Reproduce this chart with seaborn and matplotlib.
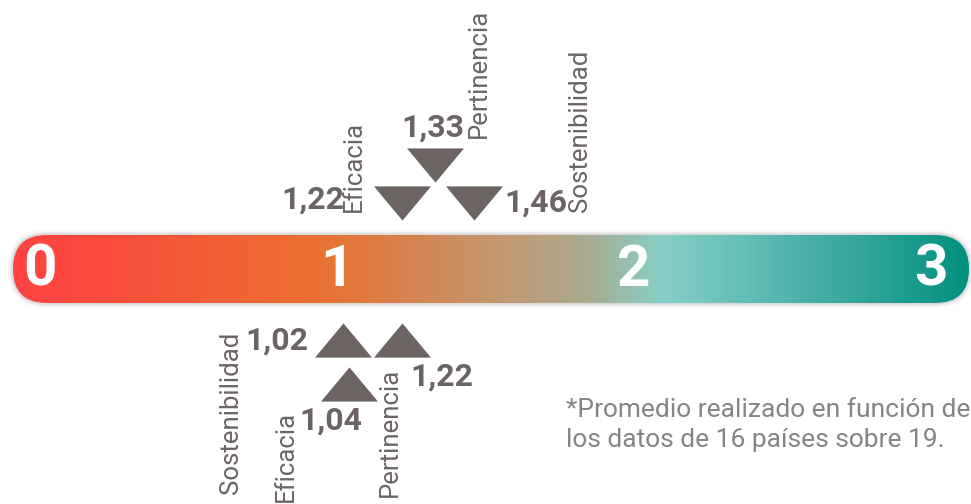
import numpy as np
import seaborn as sns
import matplotlib.pyplot as plt
from matplotlib.patches import FancyBboxPatch
from matplotlib.colors import LinearSegmentedColormap
from matplotlib.path import Path

sns.set_theme(style="white")
plt.rcParams['font.family'] = ['Roboto', 'DejaVu Sans']

# data
scale_ticks = [0, 1, 2, 3]
top_labels = ["Eficacia", "Pertinencia", "Sostenibilidad"]
top_values = [1.22, 1.33, 1.46]
bottom_labels = ["Sostenibilidad", "Eficacia", "Pertinencia"]
bottom_values = [1.02, 1.04, 1.22]
footnote = "*Promedio realizado en función de\nlos datos de 16 países sobre 19."

GREY = "#6b6462"
W, H = 971, 504
PX_PER_UNIT = 297.0
X0_PX = 40.0

fig = plt.figure(figsize=(W / 100, H / 100), dpi=100)
ax = fig.add_axes([0, 0, 1, 1])
ax.set_xlim(-X0_PX / PX_PER_UNIT, (W - X0_PX) / PX_PER_UNIT)
ax.set_ylim(H, 0)  # vertical axis in pixel rows, for layout only
ax.axis("off")

# gradient bar with rounded ends
bar_x0 = (13 - X0_PX) / PX_PER_UNIT
bar_x1 = (969 - X0_PX) / PX_PER_UNIT
bar_top, bar_bot = 235, 303
r = (bar_bot - bar_top) / 2 / PX_PER_UNIT

for grow, alpha in [(5, 0.03), (3, 0.05), (1.5, 0.07)]:
    g = grow / PX_PER_UNIT
    ax.add_patch(FancyBboxPatch((bar_x0 - g, bar_top - grow), bar_x1 - bar_x0 + 2 * g,
                                bar_bot - bar_top + 2 * grow,
                                boxstyle=f"round,pad=0,rounding_size={r + g}",
                                mutation_aspect=PX_PER_UNIT, fc="#000000", ec="none",
                                alpha=alpha, zorder=1))

clip = FancyBboxPatch((bar_x0, bar_top), bar_x1 - bar_x0, bar_bot - bar_top,
                      boxstyle=f"round,pad=0,rounding_size={r}",
                      mutation_aspect=PX_PER_UNIT, fc="none", ec="none")
ax.add_patch(clip)
cmap = LinearSegmentedColormap.from_list("bar", [
    (0.00, "#ff4343"), (0.09, "#fa4c3d"), (0.315, "#eb7030"), (0.45, "#cf8b5c"),
    (0.55, "#b9a07e"), (0.60, "#a9ab90"), (0.68, "#86cfc7"), (0.82, "#4eb3aa"),
    (1.00, "#03907e")])
img = ax.imshow(np.linspace(0, 1, 512)[None, :], cmap=cmap, aspect="auto",
                extent=(bar_x0, bar_x1, bar_bot, bar_top), zorder=2)
img.set_clip_path(clip)

for t in scale_ticks:
    ax.text(t, 270, str(t), color="white", fontsize=42, fontweight="bold",
            ha="center", va="center", zorder=3)

# triangle markers
down_tri = Path([(-1, 0.6), (1, 0.6), (0, -0.6), (-1, 0.6)], closed=True)
up_tri = Path([(-1, -0.6), (1, -0.6), (0, 0.6), (-1, -0.6)], closed=True)

# layout: row y (px), value label offset/alignment, name label offset/alignment
top_layout = {
    "Eficacia": dict(y=203, v=(-58, -3, "right", "center"), n=(-48, 9, "bottom")),
    "Pertinencia": dict(y=165, v=(-2, -37, "center", "center"), n=(44, -27, "bottom")),
    "Sostenibilidad": dict(y=203, v=(31, 0, "left", "center"), n=(106, 9, "bottom")),
}
bottom_layout = {
    "Sostenibilidad": dict(y=340, v=(-35, 1, "right", "center"), n=(-112, -8, "top")),
    "Eficacia": dict(y=384, v=(-18, 37, "center", "center"), n=(-63, 27, "top")),
    "Pertinencia": dict(y=340, v=(8, 37, "left", "center"), n=(-12, 28, "top")),
}

for labels, values, layout, marker in [(top_labels, top_values, top_layout, down_tri),
                                       (bottom_labels, bottom_values, bottom_layout, up_tri)]:
    ys = [layout[l]["y"] for l in labels]
    sns.scatterplot(x=values, y=ys, marker=marker, s=41 ** 2, color=GREY,
                    linewidth=0, ax=ax, zorder=4, legend=False)
    for lab, val, y in zip(labels, values, ys):
        dx, dy, ha, va = layout[lab]["v"]
        ax.annotate(f"{val:.2f}".replace(".", ","), xy=(val, y), xytext=(dx, -dy),
                    textcoords="offset pixels", ha=ha, va=va, fontsize=23,
                    fontweight="bold", color=GREY)
        nx, ny, nva = layout[lab]["n"]
        ax.annotate(lab, xy=(val, y), xytext=(nx, -ny), textcoords="offset pixels",
                    ha="center", va=nva, rotation=90, fontsize=18.5, color=GREY)

fig.text(566 / W, 1 - 398 / H, footnote, ha="left", va="top", fontsize=19,
         color="#858585", linespacing=1.3)

fig.savefig("out.png", dpi=100)
